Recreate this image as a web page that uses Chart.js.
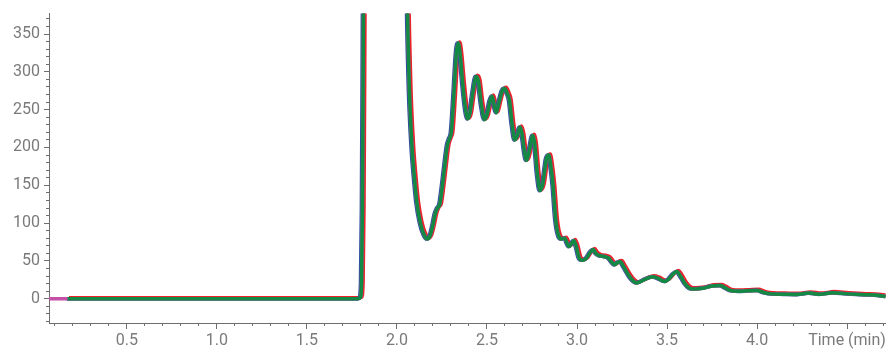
<!DOCTYPE html>
<html>
<head>
<meta charset="utf-8">
<script src="https://cdn.jsdelivr.net/npm/chart.js@4"></script>
<style>
html,body{margin:0;padding:0;background:#fff;}
canvas{display:block;}
</style>
</head>
<body>
<canvas id="c" width="888" height="350"></canvas>
<script>
// ---- data (time in min, signal) ----
const times = [0.17, 0.5, 1.0, 1.5, 1.78, 1.795, 1.803, 1.808, 1.812, 1.818, 1.93, 2.045, 2.058, 2.066, 2.073, 2.085, 2.095, 2.11, 2.13, 2.15, 2.168, 2.185, 2.2, 2.212, 2.225, 2.238, 2.25, 2.265, 2.28, 2.292, 2.302, 2.315, 2.33, 2.34, 2.35, 2.365, 2.38, 2.394, 2.405, 2.42, 2.44, 2.452, 2.468, 2.487, 2.5, 2.515, 2.528, 2.54, 2.552, 2.565, 2.585, 2.598, 2.612, 2.625, 2.64, 2.655, 2.668, 2.683, 2.695, 2.708, 2.72, 2.735, 2.755, 2.765, 2.78, 2.795, 2.81, 2.83, 2.843, 2.855, 2.867, 2.882, 2.9, 2.915, 2.932, 2.955, 2.97, 2.982, 2.995, 3.012, 3.03, 3.05, 3.075, 3.09, 3.105, 3.125, 3.15, 3.175, 3.195, 3.21, 3.225, 3.24, 3.26, 3.29, 3.31, 3.33, 3.355, 3.38, 3.42, 3.45, 3.487, 3.51, 3.535, 3.555, 3.575, 3.6, 3.625, 3.65, 3.7, 3.75, 3.795, 3.82, 3.85, 3.9, 3.95, 4.0, 4.04, 4.08, 4.15, 4.22, 4.29, 4.35, 4.42, 4.5, 4.6, 4.65, 4.715];
const signal = [0, 0, 0, 0, 0, 1, 20, 120, 300, 600, 2000, 700, 390, 300, 250, 195, 165, 128, 100, 85, 79, 84, 98, 112, 120, 125, 145, 175, 203, 212, 220, 265, 325, 338, 325, 285, 252, 238, 245, 270, 294, 288, 258, 237, 243, 260, 268, 256, 246, 258, 275, 278, 272, 262, 230, 210, 215, 227, 218, 195, 183, 196, 216, 205, 165, 143, 152, 185, 190, 175, 150, 104, 82, 79, 80, 69, 73, 77, 70, 54, 51, 53, 62, 65, 60, 57, 56, 54, 48, 45, 48, 49, 42, 30, 24, 21, 23, 26, 29, 27, 23, 26, 33, 36, 30, 20, 14, 13, 14, 17, 17.5, 15, 11, 10, 10.5, 11, 8, 6.5, 6, 5.7, 7.5, 6, 8, 6.5, 5.3, 5, 3];
// early start of the magenta trace (visible before the others begin)
const leadTimes = [0.067, 0.12];
const leadSignal = [0, 0];

const seriesNames = ['Green', 'Magenta', 'Blue', 'Red'];
const seriesColors = ['#138a43', '#c450a8', '#2f4fa0', '#e8232b'];

const xMajorTicks = [0.5, 1.0, 1.5, 2.0, 2.5, 3.0, 3.5, 4.0, 4.5];
const xTickLabels = ['0.5', '1.0', '1.5', '2.0', '2.5', '3.0', '3.5', '4.0', 'Time (min)'];

const X_MIN = 0.067, X_MAX = 4.715, Y_MIN = -32, Y_MAX = 377;

// ---- build ----
const pts = (t, v) => t.map((x, i) => ({x: x, y: v[i]}));
const mainPts = pts(times, signal);
const magPts = pts(leadTimes, leadSignal).concat(mainPts);

const font = {family: 'Roboto', size: 16};
const axisColor = '#6e6e6e';
const labelColor = '#7a7a7a';

function ds(name, color, data, xid, yid, w) {
  return {label: name, data: data, borderColor: color, backgroundColor: color,
    borderWidth: w, pointRadius: 0, fill: false, cubicInterpolationMode: 'monotone',
    xAxisID: xid, yAxisID: yid};
}

new Chart(document.getElementById('c'), {
  type: 'line',
  data: {datasets: [
    ds(seriesNames[0], seriesColors[0], mainPts, 'x', 'y', 3.5),
    ds(seriesNames[1], seriesColors[1], magPts, 'x', 'y', 3.5),
    ds(seriesNames[2], seriesColors[2], mainPts, 'xb', 'y', 3.8),
    ds(seriesNames[3], seriesColors[3], mainPts, 'xr', 'yr', 3.8)
  ]},
  options: {
    responsive: false, animation: false, events: [],
    layout: {padding: {top: 13, right: 2, left: 0, bottom: 0}},
    plugins: {legend: {display: false}, tooltip: {enabled: false}},
    scales: {
      x: {type: 'linear', position: 'bottom', min: X_MIN, max: X_MAX, weight: 1,
        afterBuildTicks: s => { s.ticks = xMajorTicks.map(v => ({value: v})); },
        afterFit: s => { s.height = 27; },
        border: {display: true, color: axisColor, width: 1},
        grid: {drawOnChartArea: false, drawTicks: true, tickLength: 6, tickColor: axisColor},
        ticks: {autoSkip: false, maxRotation: 0, padding: 2, color: labelColor, font: font,
          callback: (v, i) => xTickLabels[i]}
      },
      xMinor: {type: 'linear', position: 'bottom', min: X_MIN, max: X_MAX, weight: 0,
        afterFit: s => { s.height = 0; },
        border: {display: false},
        grid: {drawOnChartArea: false, drawTicks: true, tickLength: 3, tickColor: axisColor},
        ticks: {stepSize: 0.1, includeBounds: false, autoSkip: false, display: false}
      },
      xb: {type: 'linear', display: false, min: X_MIN + 0.005, max: X_MAX + 0.005},
      xr: {type: 'linear', display: false, min: X_MIN - 0.008, max: X_MAX - 0.008},
      y: {type: 'linear', position: 'left', min: Y_MIN, max: Y_MAX, weight: 1,
        afterFit: s => { s.width = 49; },
        border: {display: true, color: axisColor, width: 1},
        grid: {drawOnChartArea: false, drawTicks: true, tickLength: 5, tickColor: axisColor},
        ticks: {stepSize: 50, includeBounds: false, padding: 4, color: labelColor, font: font}
      },
      yMinor: {type: 'linear', position: 'left', min: Y_MIN, max: Y_MAX, weight: 0,
        afterFit: s => { s.width = 0; },
        border: {display: false},
        grid: {drawOnChartArea: false, drawTicks: true, tickLength: 3, tickColor: axisColor},
        ticks: {stepSize: 10, includeBounds: false, display: false}
      },
      yr: {type: 'linear', display: false, min: Y_MIN - 1.3, max: Y_MAX - 1.3}
    }
  }
});
</script>
</body>
</html>
